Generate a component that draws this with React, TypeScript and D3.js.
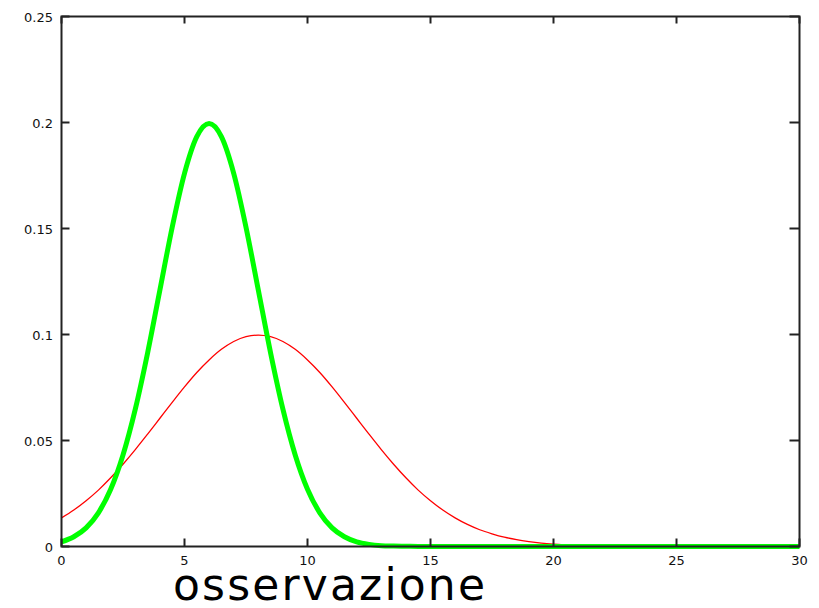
import React from "react";
import * as d3 from "d3";

const xValues = [0,0.5,1,1.5,2,2.5,3,3.5,4,4.5,5,5.5,6,6.5,7,7.5,8,8.5,9,9.5,10,10.5,11,11.5,12,12.5,13,13.5,14,14.5,15,15.5,16,16.5,17,17.5,18,18.5,19,19.5,20,21,22,23,24,25,26,27,28,29,30];
const greenValues = [0.0022,0.0046,0.0088,0.0159,0.027,0.0432,0.0648,0.0913,0.121,0.1506,0.176,0.1933,0.1995,0.1933,0.176,0.1506,0.121,0.0913,0.0648,0.0432,0.027,0.0159,0.0088,0.0046,0.0022,0.001,0.0004,0.0002,0.0001,0,0,0,0,0,0,0,0,0,0,0,0,0,0,0,0,0,0,0,0,0,0];
const redValues = [0.0135,0.0172,0.0216,0.0266,0.0324,0.0388,0.0457,0.053,0.0605,0.068,0.0753,0.0821,0.088,0.093,0.0967,0.099,0.0997,0.099,0.0967,0.093,0.088,0.0821,0.0753,0.068,0.0605,0.053,0.0457,0.0388,0.0324,0.0266,0.0216,0.0172,0.0135,0.0104,0.0079,0.006,0.0044,0.0032,0.0023,0.0016,0.0011,0.0005,0.0002,0.0001,0,0,0,0,0,0,0];
const xTicks = [0,5,10,15,20,25,30];
const yTicks = [0,0.05,0.1,0.15,0.2,0.25];
const yTickLabels = ["0","0.05","0.1","0.15","0.2","0.25"];
const xLabel = "osservazione";

export default function App() {
  const W = 819, H = 608;
  const L = 61.5, R = 799.5, T = 16.5, B = 546.5;
  const x = d3.scaleLinear().domain([0, 30]).range([L, R]);
  const y = d3.scaleLinear().domain([0, 0.25]).range([B, T]);
  const line = d3.line<number>().x((_, i) => x(xValues[i])).y((d) => y(d)).curve(d3.curveMonotoneX);
  const tickFont = { fontFamily: "DejaVu Sans", fontSize: 13 } as const;
  return (
    <svg width={W} height={H} style={{ position: "absolute", left: 0, top: 0, background: "#fff" }}>
      <rect x={0} y={0} width={W} height={H} fill="#fff" />
      <path d={line(redValues) || ""} fill="none" stroke="#ff0000" strokeWidth={1.3} />
      <path d={line(greenValues) || ""} fill="none" stroke="#00ff00" strokeWidth={5} strokeLinejoin="round" />
      <rect x={L} y={T} width={R - L} height={B - T} fill="none" stroke="#222" strokeWidth={2} />
      {xTicks.map((t) => (
        <g key={"x" + t}>
          <line x1={x(t)} x2={x(t)} y1={B} y2={B - 8} stroke="#222" strokeWidth={2} />
          <line x1={x(t)} x2={x(t)} y1={T} y2={T + 7} stroke="#222" strokeWidth={2} />
          <text x={x(t)} y={565} textAnchor="middle" {...tickFont} fill="#111">{t}</text>
        </g>
      ))}
      {yTicks.map((t, i) => (
        <g key={"y" + t}>
          <line x1={L} x2={L + 8} y1={y(t)} y2={y(t)} stroke="#222" strokeWidth={2} />
          <line x1={R} x2={R - 10} y1={y(t)} y2={y(t)} stroke="#222" strokeWidth={2} />
          <text x={53} y={y(t) + 5} textAnchor="end" {...tickFont} fill="#111">{yTickLabels[i]}</text>
        </g>
      ))}
      <text x={173} y={600} fontFamily="DejaVu Sans" fontSize={44} textLength={312} lengthAdjust="spacing" fill="#000">{xLabel}</text>
    </svg>
  );
}
